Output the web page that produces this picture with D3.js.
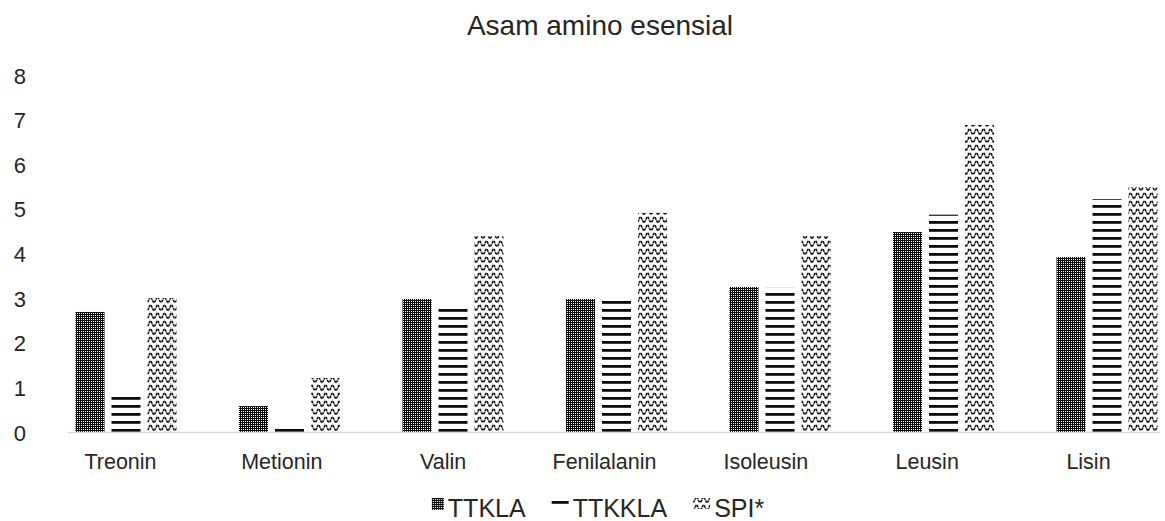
<!DOCTYPE html>
<html><head><meta charset="utf-8">
<script src="https://cdn.jsdelivr.net/npm/d3@7"></script>
<style>
body{margin:0;background:#fff}
svg{display:block;font-family:"Liberation Sans",Arial,sans-serif}
</style>
</head><body><svg id="c" width="1165" height="521"></svg>
<script>
const categories = ["Treonin","Metionin","Valin","Fenilalanin","Isoleusin","Leusin","Lisin"];
const seriesNames = ["TTKLA","TTKKLA","SPI*"];
const ttkla  = [2.69,0.58,2.98,2.98,3.25,4.48,3.92];
const ttkkla = [0.83,0.08,2.85,3.03,3.23,4.87,5.22];
const spi    = [3.00,1.21,4.39,4.91,4.39,6.88,5.49];
const yTicks = [0,1,2,3,4,5,6,7,8];
const chartTitle = "Asam amino esensial";

const seriesValues = [ttkla, ttkkla, spi];
const patternIds = ["pA","pB","pC"];
const textColor = "#262626";

const svg = d3.select("#c");
const defs = svg.append("defs");

// TTKLA: dense dark lattice
const pA = defs.append("pattern").attr("id","pA").attr("patternUnits","userSpaceOnUse")
  .attr("width",4).attr("height",4).attr("shape-rendering","crispEdges");
pA.append("rect").attr("width",4).attr("height",4).attr("fill","#050505");
[[1,1],[3,3],[1,3],[3,1]].forEach(([x,y])=>pA.append("rect").attr("x",x).attr("y",y).attr("width",1).attr("height",1).attr("fill","#fff"));

// TTKKLA: horizontal lines
const pB = defs.append("pattern").attr("id","pB").attr("patternUnits","userSpaceOnUse")
  .attr("width",8).attr("height",8);
pB.append("rect").attr("x",0).attr("y",5).attr("width",8).attr("height",2.8).attr("fill","#0a0a0a");

// SPI*: waves
const pC = defs.append("pattern").attr("id","pC").attr("patternUnits","userSpaceOnUse")
  .attr("width",14).attr("height",8);
pC.append("path").attr("d","M0,6.2 C1.5,6.2 2.4,1 3.5,1 C4.6,1 5.5,6.2 7,6.2 C8.5,6.2 9.4,1 10.5,1 C11.6,1 12.5,6.2 14,6.2")
  .attr("fill","none").attr("stroke","#0d0d0d").attr("stroke-width",1.6).attr("stroke-dasharray","2.6,0.7");

const y = d3.scaleLinear().domain([0,8]).range([432,75]);
const xBar = d3.scalePoint().domain(categories).range([126,1107]);
const xLab = d3.scalePoint().domain(categories).range([120,1088]);
const xSub = d3.scaleBand().domain(seriesNames).range([-50.5,50.5]).paddingInner(0.194);

// title
svg.append("text").attr("x",600).attr("y",35).attr("text-anchor","middle")
  .attr("font-size",28).attr("fill",textColor).text(chartTitle);

// y axis labels
const ya = svg.append("g").attr("transform","translate(26,1)")
  .call(d3.axisLeft(y).tickValues(yTicks).tickSize(0).tickPadding(0).tickFormat(d3.format("d")));
ya.select(".domain").remove();
ya.selectAll("text").attr("font-size",22).attr("fill",textColor).attr("font-family","Liberation Sans, Arial, sans-serif");

// bars
seriesNames.forEach((s,si)=>{
  svg.append("g").selectAll("rect").data(categories).join("rect")
    .attr("x",c=>xBar(c)+xSub(s))
    .attr("width",xSub.bandwidth())
    .attr("y",(c,i)=>y(seriesValues[si][i]))
    .attr("height",(c,i)=>y(0)-y(seriesValues[si][i]))
    .attr("fill",`url(#${patternIds[si]})`);
});

// x axis line
svg.append("line").attr("x1",68).attr("x2",1160).attr("y1",432.5).attr("y2",432.5)
  .attr("stroke","#d9d9d9").attr("stroke-width",1.5);

// x labels
const xa = svg.append("g").attr("transform","translate(0,432)")
  .call(d3.axisBottom(xLab).tickSize(0).tickPadding(22));
xa.select(".domain").remove();
xa.selectAll("text").attr("font-size",21.5).attr("fill",textColor).attr("font-family","Liberation Sans, Arial, sans-serif");

// legend
const lg = svg.append("g");
const swatch = [{w:12,h:12,dy:-10},{w:17,h:7,dy:-8},{w:17,h:11,dy:-10}];
const items = seriesNames.map((s,i)=>{
  const g = lg.append("g");
  g.append("rect").attr("x",0).attr("y",508+swatch[i].dy).attr("width",swatch[i].w).attr("height",swatch[i].h)
    .attr("fill",`url(#${patternIds[i]})`);
  const t = g.append("text").attr("x",swatch[i].w+4).attr("y",517).attr("font-size",25)
    .attr("fill",textColor).text(s);
  const w = swatch[i].w+4+t.node().getComputedTextLength();
  return {g,w};
});
const gap = 26;
const total = d3.sum(items,d=>d.w)+gap*(items.length-1);
let start = 598 - total/2;
items.forEach(it=>{ it.g.attr("transform",`translate(${start},0)`); start += it.w+gap; });
</script>
</body></html>
